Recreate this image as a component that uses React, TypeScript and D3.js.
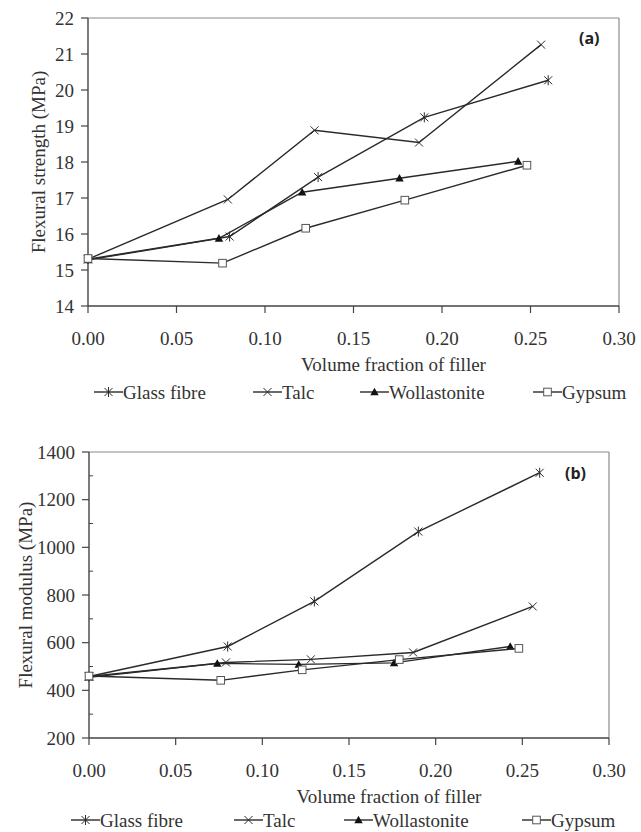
import React from "react";
import * as d3 from "d3";

// x positions (volume fraction) per filler
const xGlass = [0, 0.08, 0.13, 0.19, 0.26];
const xTalc = [0, 0.079, 0.128, 0.187, 0.256];
const xWoll = [0, 0.074, 0.121, 0.176, 0.243];
const xGyp = [0, 0.076, 0.123, 0.179, 0.248];

// (a) flexural strength, MPa
const strGlass = [15.3, 15.93, 17.58, 19.24, 20.27];
const strTalc = [15.3, 16.96, 18.88, 18.54, 21.26];
const strWoll = [15.28, 15.88, 17.16, 17.55, 18.02];
const strGyp = [15.32, 15.19, 16.16, 16.94, 17.91];

// (b) flexural modulus, MPa
const modGlass = [458, 584, 773, 1066, 1313];
const modTalc = [458, 517, 530, 559, 752];
const modWoll = [455, 513, 509, 515, 584];
const modGyp = [460, 442, 486, 529, 576];

const seriesNames = ["Glass fibre", "Talc", "Wollastonite", "Gypsum"];
const markerTypes = ["star", "x", "tri", "sq"];
const xTicks = [0, 0.05, 0.1, 0.15, 0.2, 0.25, 0.3];

const SERIF = "Liberation Serif, Times New Roman, DejaVu Serif, serif";
const INK = "#2a2a2a";
const TXT = "#333";

function Marker({ type, x, y }: { type: string; x: number; y: number }) {
  const r = 4;
  if (type === "x" || type === "star") {
    return (
      <g stroke={INK} strokeWidth={1}>
        <line x1={x - r} y1={y - r} x2={x + r} y2={y + r} />
        <line x1={x - r} y1={y + r} x2={x + r} y2={y - r} />
        {type === "star" && <line x1={x} y1={y - r - 1} x2={x} y2={y + r + 1} />}
      </g>
    );
  }
  if (type === "tri") {
    const s = 4.2;
    return (
      <path
        d={`M${x},${y - s}L${x + s},${y + s * 0.8}L${x - s},${y + s * 0.8}Z`}
        fill="#111"
      />
    );
  }
  return (
    <rect x={x - 3.8} y={y - 3.8} width={7.6} height={7.6} fill="#fff" stroke="#555" strokeWidth={1} />
  );
}

type Props = {
  xs: number[][];
  ys: number[][];
  yDomain: [number, number];
  yTicks: number[];
  minorTicks: number[];
  left: number;
  right: number;
  top: number;
  bottom: number;
  yTitle: string;
  titleX: number;
  tag: string;
  tagX: number;
  tagY: number;
  legendX: number[];
  legendDy: number;
};

function Panel(p: Props) {
  const x = d3.scaleLinear().domain([0, 0.3]).range([p.left, p.right]);
  const y = d3.scaleLinear().domain(p.yDomain).range([p.bottom, p.top]);
  const line = d3
    .line<[number, number]>()
    .x((d) => x(d[0]))
    .y((d) => y(d[1]));
  const legendY = p.bottom + p.legendDy;

  return (
    <g style={{ fontFamily: SERIF }}>
      {/* plot frame */}
      <line x1={p.left} y1={p.top} x2={p.right} y2={p.top} stroke="#8a8a8a" strokeWidth={1.2} />
      <line x1={p.right} y1={p.top} x2={p.right} y2={p.bottom} stroke="#8a8a8a" strokeWidth={1.2} />
      <line x1={p.left} y1={p.top} x2={p.left} y2={p.bottom} stroke="#444" strokeWidth={1.4} />
      <line x1={p.left} y1={p.bottom} x2={p.right} y2={p.bottom} stroke="#444" strokeWidth={1.4} />

      {/* y axis */}
      {p.yTicks.map((t) => (
        <g key={"y" + t}>
          <line x1={p.left - 7} y1={y(t)} x2={p.left} y2={y(t)} stroke="#444" strokeWidth={1.2} />
          <text x={p.left - 14} y={y(t)} dy="0.35em" textAnchor="end" fontSize={19} fill={TXT}>
            {t}
          </text>
        </g>
      ))}
      {p.minorTicks.map((t) => (
        <line key={"m" + t} x1={p.left} y1={y(t)} x2={p.left + 4} y2={y(t)} stroke="#444" strokeWidth={1} />
      ))}
      <text
        transform={`translate(${p.titleX},${(p.top + p.bottom) / 2}) rotate(-90)`}
        textAnchor="middle"
        dy="0.35em"
        fontSize={19}
        fill={TXT}
      >
        {p.yTitle}
      </text>

      {/* x axis */}
      {xTicks.map((t) => (
        <g key={"x" + t}>
          <line x1={x(t)} y1={p.bottom} x2={x(t)} y2={p.bottom + 7} stroke="#444" strokeWidth={1.2} />
          <text x={x(t)} y={p.bottom + 32} dy="0.35em" textAnchor="middle" fontSize={19} fill={TXT}>
            {t.toFixed(2)}
          </text>
        </g>
      ))}
      <text
        x={(p.left + p.right) / 2 + 40}
        y={p.bottom + 58}
        dy="0.35em"
        textAnchor="middle"
        fontSize={19}
        fill={TXT}
      >
        Volume fraction of filler
      </text>

      {/* series */}
      {p.ys.map((vals, i) => {
        const pts = vals.map((v, j) => [p.xs[i][j], v] as [number, number]);
        return (
          <g key={seriesNames[i]}>
            <path d={line(pts) || ""} fill="none" stroke={INK} strokeWidth={1.4} />
            {pts.map((d, j) => (
              <Marker key={j} type={markerTypes[i]} x={x(d[0])} y={y(d[1])} />
            ))}
          </g>
        );
      })}

      <text
        x={p.tagX}
        y={p.tagY}
        dy="0.35em"
        style={{ fontFamily: "Open Sans, DejaVu Sans, sans-serif" }}
        fontWeight="bold"
        fontSize={16}
        fill="#222"
      >
        {p.tag}
      </text>

      {/* legend */}
      {seriesNames.map((name, i) => {
        const lx = p.legendX[i];
        return (
          <g key={"lg" + name}>
            <line x1={lx} y1={legendY} x2={lx + 29} y2={legendY} stroke={INK} strokeWidth={1.4} />
            <Marker type={markerTypes[i]} x={lx + 14.5} y={legendY} />
            <text x={lx + 29} y={legendY} dy="0.35em" fontSize={19} fill={TXT}>
              {name}
            </text>
          </g>
        );
      })}
    </g>
  );
}

export default function App() {
  return (
    <svg
      width={641}
      height={832}
      style={{ position: "absolute", left: 0, top: 0, background: "#fff" }}
    >
      <Panel
        xs={[xGlass, xTalc, xWoll, xGyp]}
        ys={[strGlass, strTalc, strWoll, strGyp]}
        yDomain={[14, 22]}
        yTicks={d3.range(14, 23, 1)}
        minorTicks={[]}
        left={88}
        right={619}
        top={18}
        bottom={306}
        yTitle="Flexural strength (MPa)"
        titleX={38}
        tag="(a)"
        tagX={579}
        tagY={38}
        legendX={[94, 253, 360, 533]}
        legendDy={86}
      />
      <Panel
        xs={[xGlass, xTalc, xWoll, xGyp]}
        ys={[modGlass, modTalc, modWoll, modGyp]}
        yDomain={[200, 1400]}
        yTicks={d3.range(200, 1401, 200)}
        minorTicks={d3.range(300, 1400, 200)}
        left={89}
        right={609}
        top={452}
        bottom={738}
        yTitle="Flexural modulus (MPa)"
        titleX={25}
        tag="(b)"
        tagX={565}
        tagY={473}
        legendX={[71, 234, 344, 522]}
        legendDy={82}
      />
    </svg>
  );
}
